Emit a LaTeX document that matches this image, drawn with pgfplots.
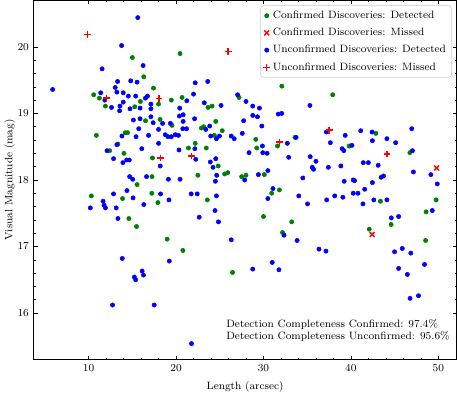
\documentclass[border=0pt]{standalone}
\usepackage{pgfplots}
\pgfplotsset{compat=1.18}
\definecolor{mgreen}{RGB}{0,128,0}
\definecolor{mblue}{RGB}{0,0,255}
\definecolor{mred}{RGB}{255,0,0}
\pgfplotstableread{
x y
10.58 19.28
11.23 19.23
11.92 19.11
10.88 18.67
12.40 18.44
13.35 18.54
14.04 18.40
15.00 19.84
15.27 19.10
16.31 19.55
17.42 19.38
15.92 19.18
16.50 18.89
14.19 18.71
14.45 18.71
15.54 17.93
17.30 18.33
17.25 18.05
18.00 19.14
18.17 18.91
19.46 19.20
19.54 18.82
20.46 19.90
20.69 19.24
21.42 18.48
22.19 18.55
22.50 18.07
22.90 18.78
23.15 18.80
23.46 18.48
23.65 19.09
24.12 19.11
24.38 18.67
24.54 18.88
24.82 18.21
25.28 18.74
25.56 18.09
25.92 18.11
27.20 19.24
27.50 18.05
28.00 18.07
29.12 18.61
29.23 18.48
30.10 18.08
31.60 18.51
32.10 19.41
33.60 18.64
37.92 19.28
39.80 18.51
42.85 18.70
46.75 18.41
10.31 17.76
13.88 17.72
14.60 17.42
15.48 17.30
17.23 17.80
17.92 17.66
18.98 17.11
20.78 16.94
23.58 17.70
26.46 16.61
30.00 17.45
30.94 17.80
31.82 17.85
32.18 17.21
33.23 17.37
42.10 17.26
43.38 17.68
44.60 17.33
48.60 17.52
48.55 17.09
49.75 17.70
}\confdet
\pgfplotstableread{
x y
49.81 18.18
42.43 17.18
}\confmiss
\pgfplotstableread{
x y
5.88 19.36
15.62 20.44
13.77 20.02
11.54 19.67
16.23 19.72
11.38 19.31
11.85 19.20
12.62 19.09
13.04 19.39
13.31 19.48
14.81 19.49
15.54 19.47
13.23 19.32
13.96 19.31
14.54 19.26
15.38 19.26
13.58 19.11
13.54 19.04
13.96 19.17
15.12 18.90
15.88 18.92
14.73 19.07
15.88 19.08
16.50 19.23
16.73 19.26
17.12 19.14
17.12 19.07
17.12 18.95
17.38 18.86
15.73 18.77
13.81 18.66
13.23 18.53
12.10 18.44
12.85 18.32
13.92 18.26
14.35 18.30
14.65 18.30
14.69 18.05
15.04 18.01
16.08 18.47
16.85 18.67
15.42 18.65
16.62 18.05
18.00 18.76
18.00 18.55
18.19 18.21
18.46 18.85
18.77 18.68
19.08 18.65
19.46 18.65
19.12 18.01
19.35 18.85
19.92 18.68
20.27 18.67
20.38 18.96
20.42 19.08
20.34 18.45
20.46 18.01
20.81 18.98
20.81 18.88
20.77 18.77
21.20 18.77
21.23 19.19
22.00 19.29
22.12 18.92
22.15 18.47
22.25 18.31
23.40 18.76
23.23 19.16
23.62 19.48
22.19 19.46
23.85 18.81
23.96 18.66
23.92 18.27
24.23 18.19
24.54 18.32
24.50 17.98
24.65 18.07
24.62 18.62
24.96 18.66
25.15 19.12
26.31 18.66
26.65 18.62
27.04 19.28
27.58 18.70
27.73 18.89
28.00 19.18
28.35 18.41
27.85 18.00
28.77 19.11
28.77 18.97
29.31 18.95
29.54 19.08
29.81 18.81
29.88 18.51
29.92 18.41
30.42 18.40
29.42 18.08
30.50 18.14
31.69 18.99
32.08 19.00
32.73 18.55
32.88 18.34
33.73 18.64
34.50 18.03
35.31 19.12
35.35 18.35
35.58 18.19
35.73 18.16
36.00 18.28
37.19 18.72
37.42 18.19
37.65 18.56
38.85 18.21
39.00 18.47
39.19 18.44
39.35 18.67
39.23 17.98
40.27 18.00
40.42 17.99
41.12 18.74
41.42 18.26
42.00 18.26
42.42 18.72
42.46 18.59
42.46 17.96
43.12 18.22
43.46 18.04
43.73 18.06
44.12 18.62
45.12 18.56
46.96 18.77
47.04 18.44
47.15 18.12
49.15 18.08
49.88 17.94
40.12 18.52
10.19 17.58
11.65 17.68
11.77 17.62
11.92 17.58
12.85 17.79
13.15 17.58
13.35 17.42
14.38 17.84
15.08 17.73
16.31 17.63
13.85 16.82
12.73 16.12
15.23 16.54
15.38 16.50
16.12 16.63
16.27 16.57
17.50 16.12
18.23 17.79
19.19 17.70
19.23 16.78
21.73 17.79
22.42 17.79
22.65 17.44
21.77 15.54
24.46 17.54
24.62 17.76
24.85 17.37
26.31 17.10
28.77 16.66
30.50 17.72
31.08 17.87
31.00 16.76
31.77 16.65
32.35 17.17
33.85 17.09
34.04 17.76
35.04 17.64
36.35 16.96
37.15 16.93
37.23 17.70
38.15 17.76
39.08 17.74
40.27 17.80
40.81 17.80
41.38 17.64
41.58 17.86
42.62 17.70
44.12 17.70
44.62 17.43
45.00 16.92
45.46 17.45
45.46 16.67
45.88 16.97
46.46 16.58
46.77 16.22
46.85 16.90
47.73 16.26
48.42 16.73
49.31 17.54
}\unconfdet
\pgfplotstableread{
x y
9.90 20.19
12.02 19.23
18.05 19.22
25.95 19.93
37.50 18.75
31.83 18.57
18.23 18.33
21.73 18.36
44.13 18.39
}\unconfmiss
\begin{document}
\begin{tikzpicture}
\begin{axis}[
  scale only axis, width=318pt, height=270pt,
  xmin=3.7, xmax=52.1, ymin=15.3, ymax=20.7,
  xtick={10,20,30,40,50}, ytick={16,17,18,19,20},
  minor x tick num=4, minor y tick num=4,
  tick align=inside, major tick length=3pt, minor tick length=1.5pt,
  xtick pos=both, ytick pos=both,
  every tick/.style={black, line width=0.4pt},
  axis line style={line width=0.5pt},
  tick label style={font=\footnotesize},
  label style={font=\footnotesize},
  xlabel={Length (arcsec)}, ylabel={Visual Magnitude (mag)},
  ylabel style={yshift=-5pt},
  xlabel style={yshift=-1pt},
  legend cell align=left,
  legend style={at={(0.988,0.986)}, anchor=north east, draw=black!20,
    rounded corners=2pt, font=\footnotesize, row sep=1.8pt, inner sep=2pt},
]
\addplot[only marks, mark=*, mark size=1.6pt, draw=mgreen, fill=mgreen] table {\confdet};
\addlegendentry{Confirmed Discoveries: Detected}
\addplot[only marks, mark=x, mark size=2.6pt, draw=mred, line width=1pt] table {\confmiss};
\addlegendentry{Confirmed Discoveries: Missed}
\addplot[only marks, mark=*, mark size=1.6pt, draw=mblue, fill=mblue] table {\unconfdet};
\addlegendentry{Unconfirmed Discoveries: Detected}
\addplot[only marks, mark=+, mark size=2.6pt, draw=mred, line width=1pt] table {\unconfmiss};
\addlegendentry{Unconfirmed Discoveries: Missed}
\node[anchor=south west, align=left, font=\footnotesize, inner sep=0pt] at (rel axis cs:0.455,0.048)
  {Detection Completeness Confirmed: 97.4\%\\Detection Completeness Unconfirmed: 95.6\%};
\end{axis}
\end{tikzpicture}
\end{document}
